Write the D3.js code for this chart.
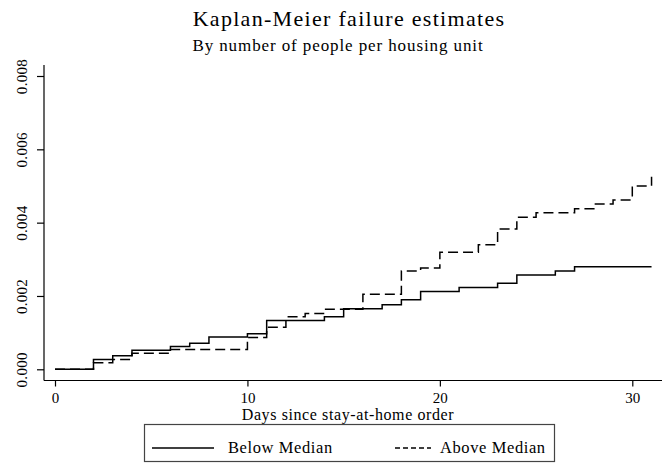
<!DOCTYPE html>
<html>
<head>
<meta charset="utf-8">
<script src="https://cdn.jsdelivr.net/npm/d3@7"></script>
<style>
  body { margin: 0; background: #fff; }
  text { font-family: "Liberation Serif", serif; fill: #000; }
</style>
</head>
<body>
<script>
// Kaplan-Meier failure estimates
const belowDays = [0, 2, 3, 4, 6, 7, 8, 10, 11, 14, 15, 17, 18, 19, 21, 23, 24, 26, 27, 31];
const belowVals = [0, 0.00027, 0.00037, 0.00052, 0.00062, 0.00071, 0.00088, 0.00097, 0.00133, 0.00143,
  0.00165, 0.00176, 0.0019, 0.00212, 0.00223, 0.00235, 0.00257, 0.00268, 0.0028, 0.0028];

const aboveDays = [0, 2, 3, 4, 6, 10, 11, 12, 13, 14, 16, 18, 19, 20, 22, 23, 24, 25, 27, 28, 29, 30, 31];
const aboveVals = [0, 0.00018, 0.00027, 0.00044, 0.00054, 0.00087, 0.00115, 0.00143, 0.00152, 0.00164,
  0.00205, 0.00268, 0.00276, 0.00319, 0.0034, 0.00383, 0.00415, 0.00427, 0.00438, 0.00451, 0.00462, 0.005, 0.00525];

const xTicks = [0, 10, 20, 30];
const yTicks = [0, 0.002, 0.004, 0.006, 0.008];
const seriesNames = ["Below Median", "Above Median"];

const w = 667;
const h = 468;

const svg = d3.select("body")
  .append("svg")
  .attr("width", w)
  .attr("height", h);

const x = d3.scaleLinear().domain([0, 30]).range([55, 632.3]);
const y = d3.scaleLinear().domain([0, 0.008]).range([369.3, 76]);

// frame (axis lines)
const axisX = 44, axisY = 380.5;
svg.append("line")
  .attr("x1", axisX).attr("x2", axisX)
  .attr("y1", 65).attr("y2", axisY)
  .attr("stroke", "#000").attr("stroke-width", 1.2);
svg.append("line")
  .attr("x1", axisX).attr("x2", 662)
  .attr("y1", axisY).attr("y2", axisY)
  .attr("stroke", "#000").attr("stroke-width", 1.2);

// y axis
const yAxis = d3.axisLeft(y)
  .tickValues(yTicks)
  .tickSize(7)
  .tickFormat(d3.format(".3f"));
const gy = svg.append("g")
  .attr("transform", `translate(${axisX},0)`)
  .call(yAxis);
gy.select(".domain").remove();
gy.selectAll("line").attr("stroke-width", 1.2);
gy.selectAll("text")
  .attr("transform", "rotate(-90)")
  .attr("x", 0)
  .attr("dy", 0)
  .attr("y", -17)
  .style("text-anchor", "middle")
  .style("font-size", "15px")
  .style("letter-spacing", "0.3px")
  .style("font-family", '"Liberation Serif", serif');

// x axis
const xAxis = d3.axisBottom(x)
  .tickValues(xTicks)
  .tickSize(6);
const gx = svg.append("g")
  .attr("transform", `translate(0,${axisY})`)
  .call(xAxis);
gx.select(".domain").remove();
gx.selectAll("line").attr("stroke-width", 1.2);
gx.selectAll("text")
  .attr("dy", 0)
  .attr("y", 22)
  .style("font-size", "15px")
  .style("font-family", '"Liberation Serif", serif');

// step lines
const below = belowDays.map((d, i) => [d, belowVals[i]]);
const above = aboveDays.map((d, i) => [d, aboveVals[i]]);

const line = d3.line()
  .x(d => x(d[0]))
  .y(d => y(d[1]))
  .curve(d3.curveStepAfter);

svg.append("path")
  .datum(below)
  .attr("d", line)
  .attr("fill", "none")
  .attr("stroke", "#000")
  .attr("stroke-width", 1.5);

svg.append("path")
  .datum(above)
  .attr("d", line)
  .attr("fill", "none")
  .attr("stroke", "#000")
  .attr("stroke-width", 1.5)
  .attr("stroke-dasharray", "10,5");

// titles
svg.append("text")
  .attr("x", 349).attr("y", 26)
  .attr("text-anchor", "middle")
  .style("font-size", "22px")
  .style("letter-spacing", "1.3px")
  .text("Kaplan-Meier failure estimates");
svg.append("text")
  .attr("x", 338).attr("y", 51)
  .attr("text-anchor", "middle")
  .style("font-size", "17px")
  .style("letter-spacing", "0.9px")
  .text("By number of people per housing unit");
svg.append("text")
  .attr("x", 348).attr("y", 420)
  .attr("text-anchor", "middle")
  .style("font-size", "16px")
  .style("letter-spacing", "0.6px")
  .text("Days since stay-at-home order");

// legend
const lg = svg.append("g");
lg.append("rect")
  .attr("x", 144.5).attr("y", 424.5)
  .attr("width", 410).attr("height", 37)
  .attr("fill", "#fff")
  .attr("stroke", "#444")
  .attr("stroke-width", 1.2);
const legendItems = [
  { name: seriesNames[0], x1: 152, x2: 214, tx: 228, dash: null },
  { name: seriesNames[1], x1: 395, x2: 431, tx: 440, dash: "5,3" }
];
legendItems.forEach(it => {
  lg.append("line")
    .attr("x1", it.x1).attr("x2", it.x2)
    .attr("y1", 448).attr("y2", 448)
    .attr("stroke", "#000")
    .attr("stroke-width", 1.5)
    .attr("stroke-dasharray", it.dash);
  lg.append("text")
    .attr("x", it.tx).attr("y", 453)
    .style("font-size", "16.5px")
    .style("letter-spacing", "0.6px")
    .text(it.name);
});
</script>
</body>
</html>
